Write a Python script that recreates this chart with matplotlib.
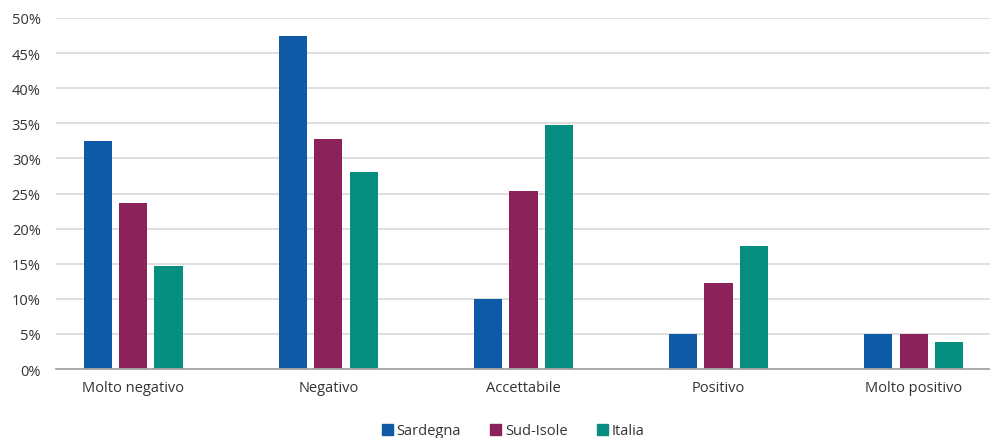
import matplotlib
matplotlib.use("Agg")
import matplotlib.pyplot as plt
import numpy as np
from matplotlib.ticker import FuncFormatter, MultipleLocator
from matplotlib.patches import Patch

categories = ["Molto negativo", "Negativo", "Accettabile", "Positivo", "Molto positivo"]
series_names = ["Sardegna", "Sud-Isole", "Italia"]
sardegna = [32.5, 47.5, 10.0, 5.0, 5.0]
sud_isole = [23.7, 32.7, 25.3, 12.3, 5.0]
italia = [14.7, 28.1, 34.8, 17.5, 3.8]
colors = ["#0E5AA7", "#8B2259", "#068F80"]

plt.rcParams['font.family'] = ['Open Sans', 'DejaVu Sans']

fig = plt.figure(figsize=(9.9, 4.39), dpi=100)
ax = fig.add_axes([56/990, 1-370/439, 934/990, 351/439])

x = np.arange(len(categories))
w = 0.144
step = 0.18
for i, (vals, c) in enumerate(zip([sardegna, sud_isole, italia], colors)):
    ax.bar(x + (i-1)*step, vals, width=w, color=c, zorder=3)

ax.set_xlim(-0.397, 4.392)
ax.set_ylim(0, 50)
ax.yaxis.set_major_locator(MultipleLocator(5))
ax.yaxis.set_major_formatter(FuncFormatter(lambda v, p: f"{int(round(v))}%"))
ax.grid(axis='y', color='#D9D9D9', linewidth=1.2, zorder=0)
for s in ['top', 'right', 'left']:
    ax.spines[s].set_visible(False)
ax.spines['bottom'].set_color('#A6A6A6')
ax.spines['bottom'].set_linewidth(1.3)
ax.spines['bottom'].set_zorder(4)
ax.set_xticks(x)
ax.set_xticklabels(categories)
ax.tick_params(axis='both', length=0, labelsize=10.5, colors='#333333')
ax.tick_params(axis='x', pad=8)
ax.tick_params(axis='y', pad=11)

handles = [Patch(color=c, label=n) for c, n in zip(colors, series_names)]
fig.legend(handles=handles, loc='center', bbox_to_anchor=(513/990, 1-432/439), ncol=3,
           frameon=False, fontsize=10.5, handlelength=0.75, handleheight=0.75,
           handletextpad=0.25, columnspacing=2.0, labelcolor='#333333')

fig.savefig("out.png", dpi=100)
